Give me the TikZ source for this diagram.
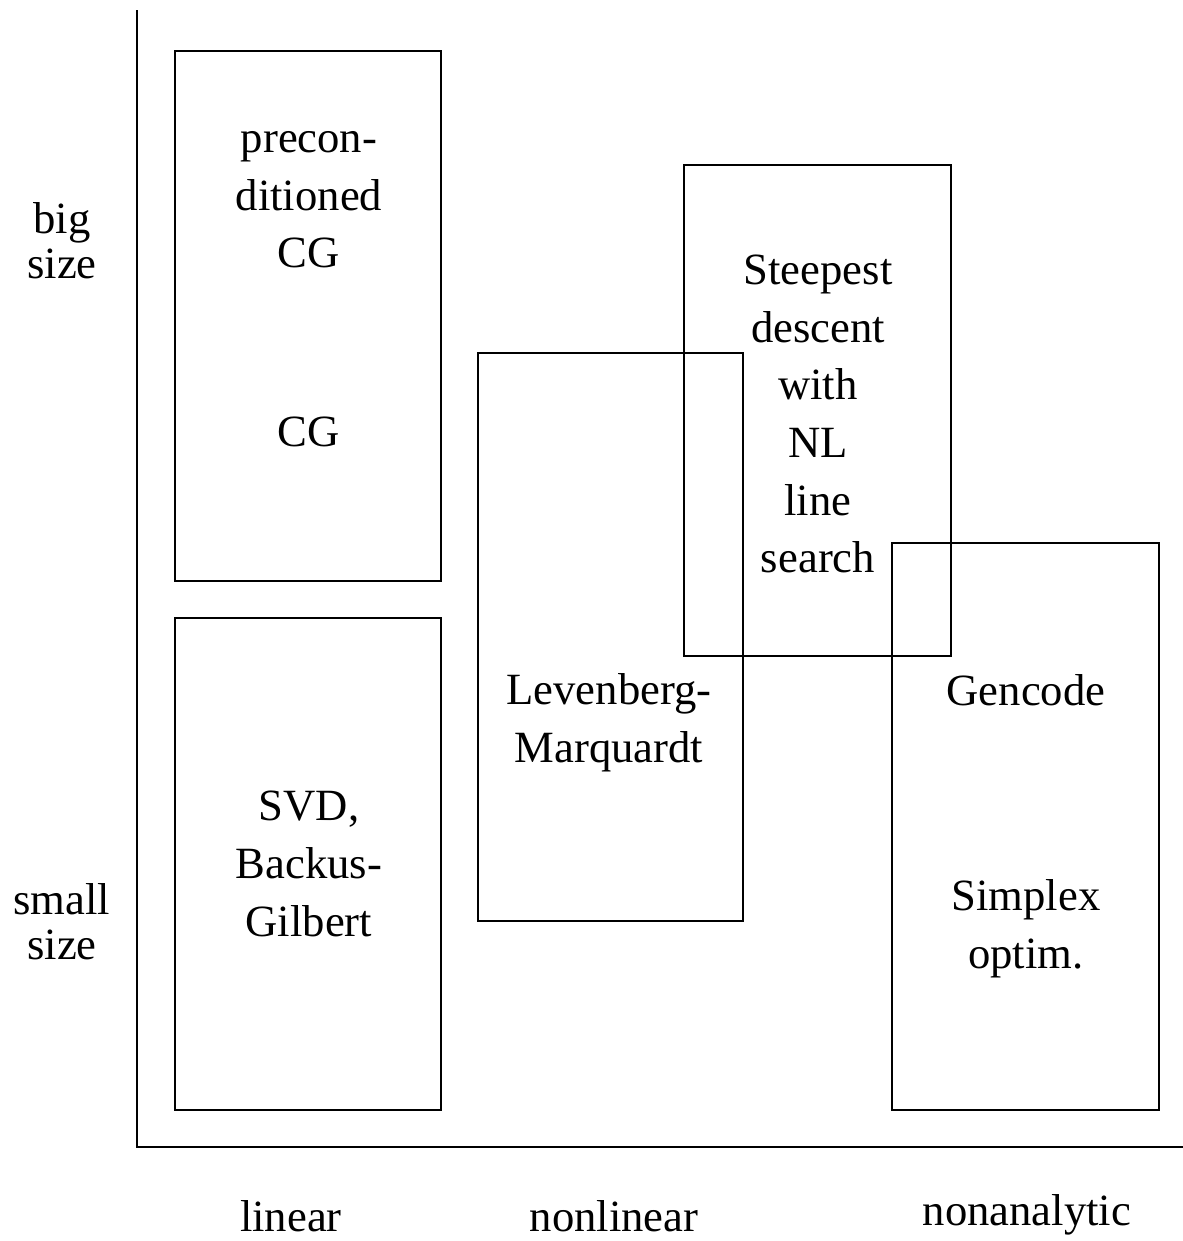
\documentclass[tikz,border=0pt]{standalone}
\usepackage{fontspec}
\setmainfont{Liberation Serif}
\usepackage{tikz}
\usetikzlibrary{positioning}

\begin{document}
\begin{tikzpicture}[x=0.01cm, y=-0.01cm, line width=0.6pt]
    \tikzstyle{method} = [rectangle, draw=black, line width=0.6pt, minimum width=2.66cm, inner sep=0pt]
    \tikzstyle{boxtext} = [font=\fontsize{12.7}{16.4}\selectfont, align=center, inner sep=0pt]
    \tikzstyle{axislabel} = [font=\fontsize{12.7}{12.8}\selectfont, align=center, inner sep=0pt]

    \useasboundingbox (0,0) rectangle (1183,1241);

    % axes
    \coordinate (origin) at (137,1147);
    \coordinate (ytop) at (137,10);
    \coordinate (xend) at (1183,1147);
    \draw (ytop) -- (origin) -- (xend);

    % method boxes
    \node (cgbox)  [method, minimum height=5.30cm] at (308,316) {};
    \node (svdbox) [method, minimum height=4.92cm] at (308,864) {};
    \node (lmbox)  [method, minimum height=5.68cm, minimum width=2.65cm] at (610.5,637) {};
    \node (sdbox)  [method, minimum height=4.91cm, minimum width=2.67cm] at (817.5,410.5) {};
    \node (gcbox)  [method, minimum height=5.67cm, minimum width=2.67cm] at (1025.5,826.5) {};

    % box contents
    \node (pcg)     [boxtext] at (309,200) {precon-\\ditioned\\CG};
    \node (cg)      [boxtext] at (309,432) {CG};
    \node (svd)     [boxtext] at (309,864) {SVD,\\Backus-\\Gilbert};
    \node (lm)      [boxtext] at (609,723) {Levenberg-\\Marquardt};
    \node (sd)      [boxtext] at (818,414) {Steepest\\descent\\with\\NL\\line\\search};
    \node (gencode) [boxtext] at (1026,690) {Gencode};
    \node (simplex) [boxtext] at (1026,929) {Simplex\\optim.};

    % axis labels
    \node (big)   [axislabel] at (62,241) {big\\size};
    \node (small) [axislabel] at (62,922) {small\\size};
    \node (lin)    [axislabel, anchor=base] at (291,1231) {linear};
    \node (nonlin) [axislabel, anchor=base] at (614,1231) {nonlinear};
    \node (nonan)  [axislabel, anchor=base] at (1027,1225) {nonanalytic};
\end{tikzpicture}
\end{document}
